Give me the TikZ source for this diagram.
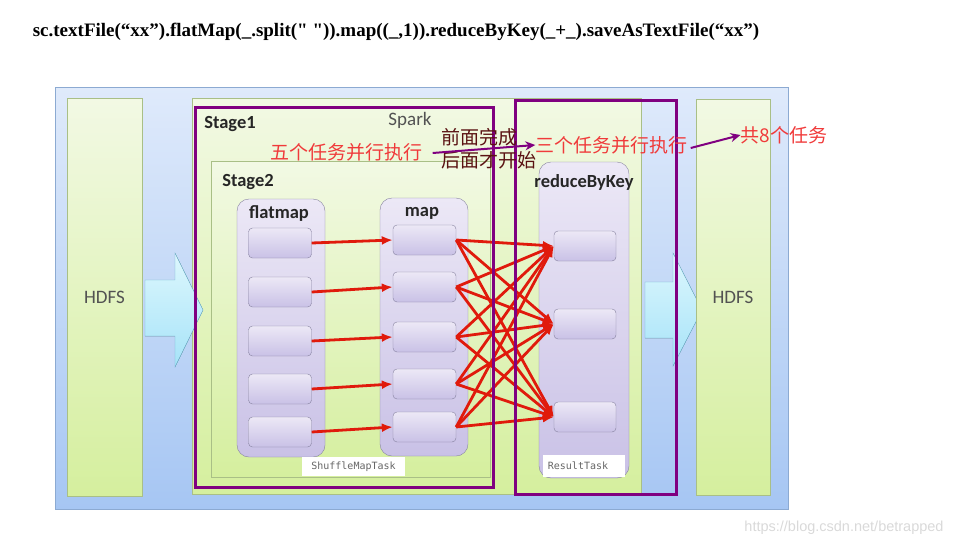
\documentclass[tikz,border=0pt]{standalone}
\usepackage{fontspec}
\usetikzlibrary{arrows.meta}
\newfontfamily\calfont{Carlito}
\newfontfamily\cjkfont{Noto Sans CJK SC}
\newfontfamily\codefont{Liberation Serif}
\newfontfamily\taskfont{DejaVu Sans Mono}
\newfontfamily\markfont{Liberation Sans}
\definecolor{bltop}{HTML}{DFEAFB}
\definecolor{blbot}{HTML}{A6C6F3}
\definecolor{blline}{HTML}{8CAAD2}
\definecolor{grtop}{HTML}{F2F9E4}
\definecolor{grbot}{HTML}{D5EF9E}
\definecolor{grline}{HTML}{A9BF86}
\definecolor{lvtop}{HTML}{ECE8F6}
\definecolor{lvbot}{HTML}{C9C1E6}
\definecolor{lvline}{HTML}{86829F}
\definecolor{cytop}{HTML}{DDF7FD}
\definecolor{cybot}{HTML}{A6E3F8}
\definecolor{cyline}{HTML}{6FB6CF}
\definecolor{arrred}{HTML}{E01A0C}
\definecolor{notered}{HTML}{F03A3A}
\definecolor{notedark}{HTML}{5A1212}
\definecolor{purp}{HTML}{800080}

\begin{document}
\begin{tikzpicture}
  [x=1pt,y=-1pt,every node/.style={inner sep=0pt},
   bluebox/.style={draw=blline,top color=bltop,bottom color=blbot},
   greenbox/.style={draw=grline,top color=grtop,bottom color=grbot},
   column/.style={draw=lvline,top color=lvtop,bottom color=lvbot,rounded corners=12pt},
   task/.style={draw=lvline,top color=lvtop,bottom color=lvbot,rounded corners=4pt,
     minimum width=63pt,minimum height=30pt},
   stagebox/.style={draw=purp,line width=3pt},
   bigarrow/.style={draw=cyline,top color=cytop,bottom color=cybot},
   shuffle/.style={draw=arrred,line width=2.8pt,-{Latex[length=11pt,width=9pt]}},
   note/.style={draw=purp,line width=2pt,-{Stealth[length=10pt,width=9pt]}},
   bold/.style={font=\calfont\bfseries\fontsize{18.5}{20}\selectfont,text=black!85},
   plain/.style={font=\calfont\fontsize{19}{21}\selectfont,text=black!68},
   cjk/.style={font=\cjkfont\fontsize{19}{23}\selectfont,text=notered}]
  \useasboundingbox (0,0) rectangle (965,546);
  % code line
  \node (code) at (396,32) {\codefont\bfseries\fontsize{19}{22}\selectfont
    sc.textFile(“xx”).flatMap(\_.split(" ")).map((\_,1)).reduceByKey(\_+\_).saveAsTextFile(“xx”)};
  % panels
  \node[bluebox,minimum width=733pt,minimum height=422pt] (outer) at (421.5,298) {};
  \node[greenbox,minimum width=75pt,minimum height=398pt] (hdfsIn) at (104.5,297) {};
  \node[greenbox,minimum width=449pt,minimum height=396pt] (spark) at (416.5,296) {};
  \node[greenbox,minimum width=279pt,minimum height=316pt] (stage2) at (350.5,319) {};
  \node[plain] at (hdfsIn) {HDFS};
  \node[plain] at (410,120) {Spark};
  \filldraw[bigarrow] (145,280) -- (175,280) -- (175,253) -- (203,310) -- (175,367)
    -- (175,336) -- (145,336) -- cycle;
  \filldraw[bigarrow] (645,282) -- (673,282) -- (673,253) -- (702,310) -- (673,366)
    -- (673,338) -- (645,338) -- cycle;
  \node[greenbox,minimum width=74pt,minimum height=396pt] (hdfsOut) at (733,297) {};
  \node[plain] at (hdfsOut) {HDFS};
  \node[bold] at (230,124) {Stage1};
  \node[bold] at (248,182) {Stage2};
  % columns
  \node[column,minimum width=88pt,minimum height=258pt] (flat) at (281,328) {};
  \node[column,minimum width=88pt,minimum height=258pt] (map) at (424,327) {};
  \node[column,minimum width=90pt,minimum height=316pt] (reduce) at (584,320) {};
  \node[bold] at (279,214) {flatmap};
  \node[bold] at (422,213) {map};
  \node[bold] at (584,182) {reduceByKey};
  \foreach \i/\y in {1/243,2/292,3/341,4/389,5/432}
    \node[task] (f\i) at (280,\y) {};
  \foreach \i/\y in {1/240,2/287,3/337,4/384,5/427}
    \node[task] (m\i) at (424.5,\y) {};
  \foreach \i/\y in {1/246,2/324,3/417}
    \node[task,minimum width=62pt] (r\i) at (585,\y) {};
  \node[fill=white,minimum width=103pt,minimum height=19pt,
    font=\taskfont\fontsize{10}{12}\selectfont,text=black!60] (smt) at (353.5,466.5) {ShuffleMapTask};
  \node[fill=white,minimum width=82pt,minimum height=22pt,
    font=\taskfont\fontsize{10}{12}\selectfont,text=black!60] (rt) at (584,466) {\hspace*{-12pt}ResultTask};
  % shuffle arrows
  \foreach \i in {1,...,5}
    \draw[shuffle] (f\i.east) -- (m\i.west);
  \foreach \i in {1,...,5}
    \foreach \j in {1,2,3}
      \draw[shuffle] (m\i.east) -- (r\j.west);
  % stages
  \node[stagebox,minimum width=298pt,minimum height=380pt] (st1) at (344,297) {};
  \node[stagebox,minimum width=161pt,minimum height=394pt] (st2) at (595.5,297) {};
  % notes
  \node[cjk] (five) at (346.5,152) {五个任务并行执行};
  \node[cjk,text=notedark,align=left,anchor=west] (wait) at (441,149)
    {前面完成\\后面才开始};
  \node[cjk] (three) at (611.5,145) {三个任务并行执行};
  \node[cjk] (total) at (784,135) {共8个任务};
  \draw[note] (five.east) ++(10,1) -- (three.west);
  \draw[note] (three.east) ++(3,3) -- (total.west);
  \node[font=\markfont\fontsize{14.5}{16}\selectfont,text=black!15] (mark) at (844,528)
    {https://blog.csdn.net/betrapped};
\end{tikzpicture}
\end{document}
